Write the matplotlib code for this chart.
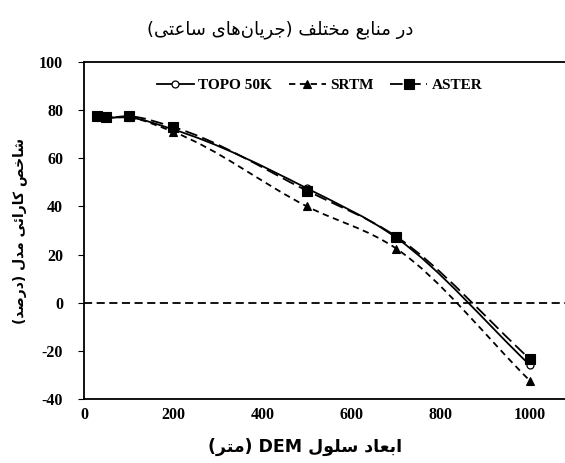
import matplotlib
matplotlib.use("Agg")
import matplotlib.pyplot as plt
from matplotlib.path import Path
from matplotlib.patches import PathPatch
from matplotlib.lines import Line2D
import re

# ---------------- data ----------------
cell_size = [30, 50, 100, 200, 500, 700, 1000]
topo50k = [77.5, 77.0, 77.0, 72.0, 47.5, 27.0, -26.0]
srtm = [77.5, 77.0, 77.0, 71.0, 40.0, 22.5, -32.5]
aster = [77.5, 77.0, 77.5, 73.0, 46.5, 27.5, -23.5]
series_names = ["TOPO 50K", "SRTM", "ASTER"]
y_ticks = [-40, -20, 0, 20, 40, 60, 80, 100]
x_ticks = [0, 200, 400, 600, 800, 1000]
title_text = "در منابع مختلف (جریان\u200cهای ساعتی)"
xlabel_text = "ابعاد سلول DEM (متر)"
ylabel_text = "شاخص کارائی مدل (درصد)"

# ---------------- minimal Persian shaping ----------------
FORMS = {  # isolated, final, initial, medial
    "\u0627": ("\uFE8D", "\uFE8E", None, None),
    "\u0628": ("\uFE8F", "\uFE90", "\uFE91", "\uFE92"),
    "\u062A": ("\uFE95", "\uFE96", "\uFE97", "\uFE98"),
    "\u062C": ("\uFE9D", "\uFE9E", "\uFE9F", "\uFEA0"),
    "\u062E": ("\uFEA5", "\uFEA6", "\uFEA7", "\uFEA8"),
    "\u062F": ("\uFEA9", "\uFEAA", None, None),
    "\u0631": ("\uFEAD", "\uFEAE", None, None),
    "\u0633": ("\uFEB1", "\uFEB2", "\uFEB3", "\uFEB4"),
    "\u0634": ("\uFEB5", "\uFEB6", "\uFEB7", "\uFEB8"),
    "\u0635": ("\uFEB9", "\uFEBA", "\uFEBB", "\uFEBC"),
    "\u0639": ("\uFEC9", "\uFECA", "\uFECB", "\uFECC"),
    "\u0641": ("\uFED1", "\uFED2", "\uFED3", "\uFED4"),
    "\u0644": ("\uFEDD", "\uFEDE", "\uFEDF", "\uFEE0"),
    "\u0645": ("\uFEE1", "\uFEE2", "\uFEE3", "\uFEE4"),
    "\u0646": ("\uFEE5", "\uFEE6", "\uFEE7", "\uFEE8"),
    "\u0647": ("\uFEE9", "\uFEEA", "\uFEEB", "\uFEEC"),
    "\u0648": ("\uFEED", "\uFEEE", None, None),
    "\u0626": ("\uFE89", "\uFE8A", "\uFE8B", "\uFE8C"),
    "\u06CC": ("\uFBFC", "\uFBFD", "\uFBFE", "\uFBFF"),
    "\u06A9": ("\uFB8E", "\uFB8F", "\uFB90", "\uFB91"),
}


def dual(c):
    return c in FORMS and FORMS[c][2] is not None


def shape(text):
    out = []
    n = len(text)
    for i, c in enumerate(text):
        if c not in FORMS:
            out.append(c)
            continue
        prev_joins = i > 0 and dual(text[i - 1])
        next_joins = i < n - 1 and text[i + 1] in FORMS and dual(c)
        iso, fin, ini, med = FORMS[c]
        if prev_joins and next_joins:
            out.append(med)
        elif prev_joins:
            out.append(fin)
        elif next_joins:
            out.append(ini)
        else:
            out.append(iso)
    s = "".join(out).replace("\u200c", "")
    s = s[::-1]
    s = s.translate(str.maketrans("()", ")("))
    s = re.sub(r"[A-Za-z0-9]+", lambda m: m.group(0)[::-1], s)
    return s


# ---------------- smooth (Hermite) path through the data points ----------------
def smooth_path(xs, ys):
    n = len(xs)
    sec = [(ys[i + 1] - ys[i]) / (xs[i + 1] - xs[i]) for i in range(n - 1)]
    m = [0.0] * n
    m[0] = sec[0]
    m[-1] = sec[-1]
    for i in range(1, n - 1):
        h0 = xs[i] - xs[i - 1]
        h1 = xs[i + 1] - xs[i]
        m[i] = (h1 * sec[i - 1] + h0 * sec[i]) / (h0 + h1)
    verts = [(xs[0], ys[0])]
    codes = [Path.MOVETO]
    for i in range(n - 1):
        h = xs[i + 1] - xs[i]
        c1 = (xs[i] + h / 3, ys[i] + m[i] * h / 3)
        c2 = (xs[i + 1] - h / 3, ys[i + 1] - m[i + 1] * h / 3)
        verts += [c1, c2, (xs[i + 1], ys[i + 1])]
        codes += [Path.CURVE4] * 3
    return Path(verts, codes)


# ---------------- figure ----------------
fig = plt.figure(figsize=(5.65, 4.63), dpi=100)
ax = fig.add_axes([0.1487, 0.138, 0.8513, 0.728])

serif = "Liberation Serif"

styles = [
    dict(dashes=None, marker="o", ms=5, mfc="white", mew=0.9),
    dict(dashes=(3.5, 2.5), marker="^", ms=6, mfc="black", mew=0.8),
    dict(dashes=(7, 3), marker="s", ms=6.5, mfc="black", mew=0.8),
]
series = [topo50k, srtm, aster]
handles = []
for vals, st, name in zip(series, styles, series_names):
    patch = PathPatch(smooth_path(cell_size, vals), facecolor="none",
                      edgecolor="black", lw=1.3,
                      linestyle="-" if st["dashes"] is None else (0, st["dashes"]))
    ax.add_patch(patch)
    ax.plot(cell_size, vals, ls="none", marker=st["marker"], ms=st["ms"],
            mfc=st["mfc"], mec="black", mew=st["mew"], zorder=3)
    h = Line2D([], [], color="black", lw=1.3, marker=st["marker"], ms=st["ms"],
               mfc=st["mfc"], mec="black", mew=st["mew"])
    if st["dashes"] is not None:
        h.set_dashes(st["dashes"])
    handles.append(h)

ax.axhline(0, color="black", lw=1.3, ls=(0, (4.5, 2.5)), zorder=1)

ax.set_xlim(0, 1078)
ax.set_ylim(-40, 100)
ax.set_yticks(y_ticks)
ax.set_xticks(x_ticks)
ax.set_yticklabels([str(v) for v in y_ticks], fontfamily=serif,
                   fontweight="bold", fontsize=11.5)
ax.set_xticklabels([str(v) for v in x_ticks], fontfamily=serif,
                   fontweight="bold", fontsize=11.5)
ax.tick_params(axis="y", direction="out", length=4, width=0.8, pad=11)
ax.tick_params(axis="x", length=0, pad=6)

ax.spines["right"].set_visible(False)
for s in ["left", "top", "bottom"]:
    ax.spines[s].set_linewidth(1.3)

leg = ax.legend(handles, series_names, loc="center",
                bbox_to_anchor=(0.49, 0.93), ncol=3, frameon=False,
                handlelength=2.4, columnspacing=1.1, handletextpad=0.3,
                prop={"family": serif, "weight": "bold", "size": 11})

ax.set_xlabel(shape(xlabel_text), family=["DejaVu Sans"], fontweight="bold",
              fontsize=12.5)
ax.xaxis.set_label_coords(0.46, -0.115)
ax.set_ylabel(shape(ylabel_text), family=["DejaVu Sans"], fontweight="bold",
              fontsize=10)
ax.yaxis.set_label_coords(-0.118, 0.5)
fig.text(0.496, 0.935, shape(title_text), family=["DejaVu Sans"],
         fontsize=13, ha="center", va="center")

fig.savefig("out.png", dpi=100)
